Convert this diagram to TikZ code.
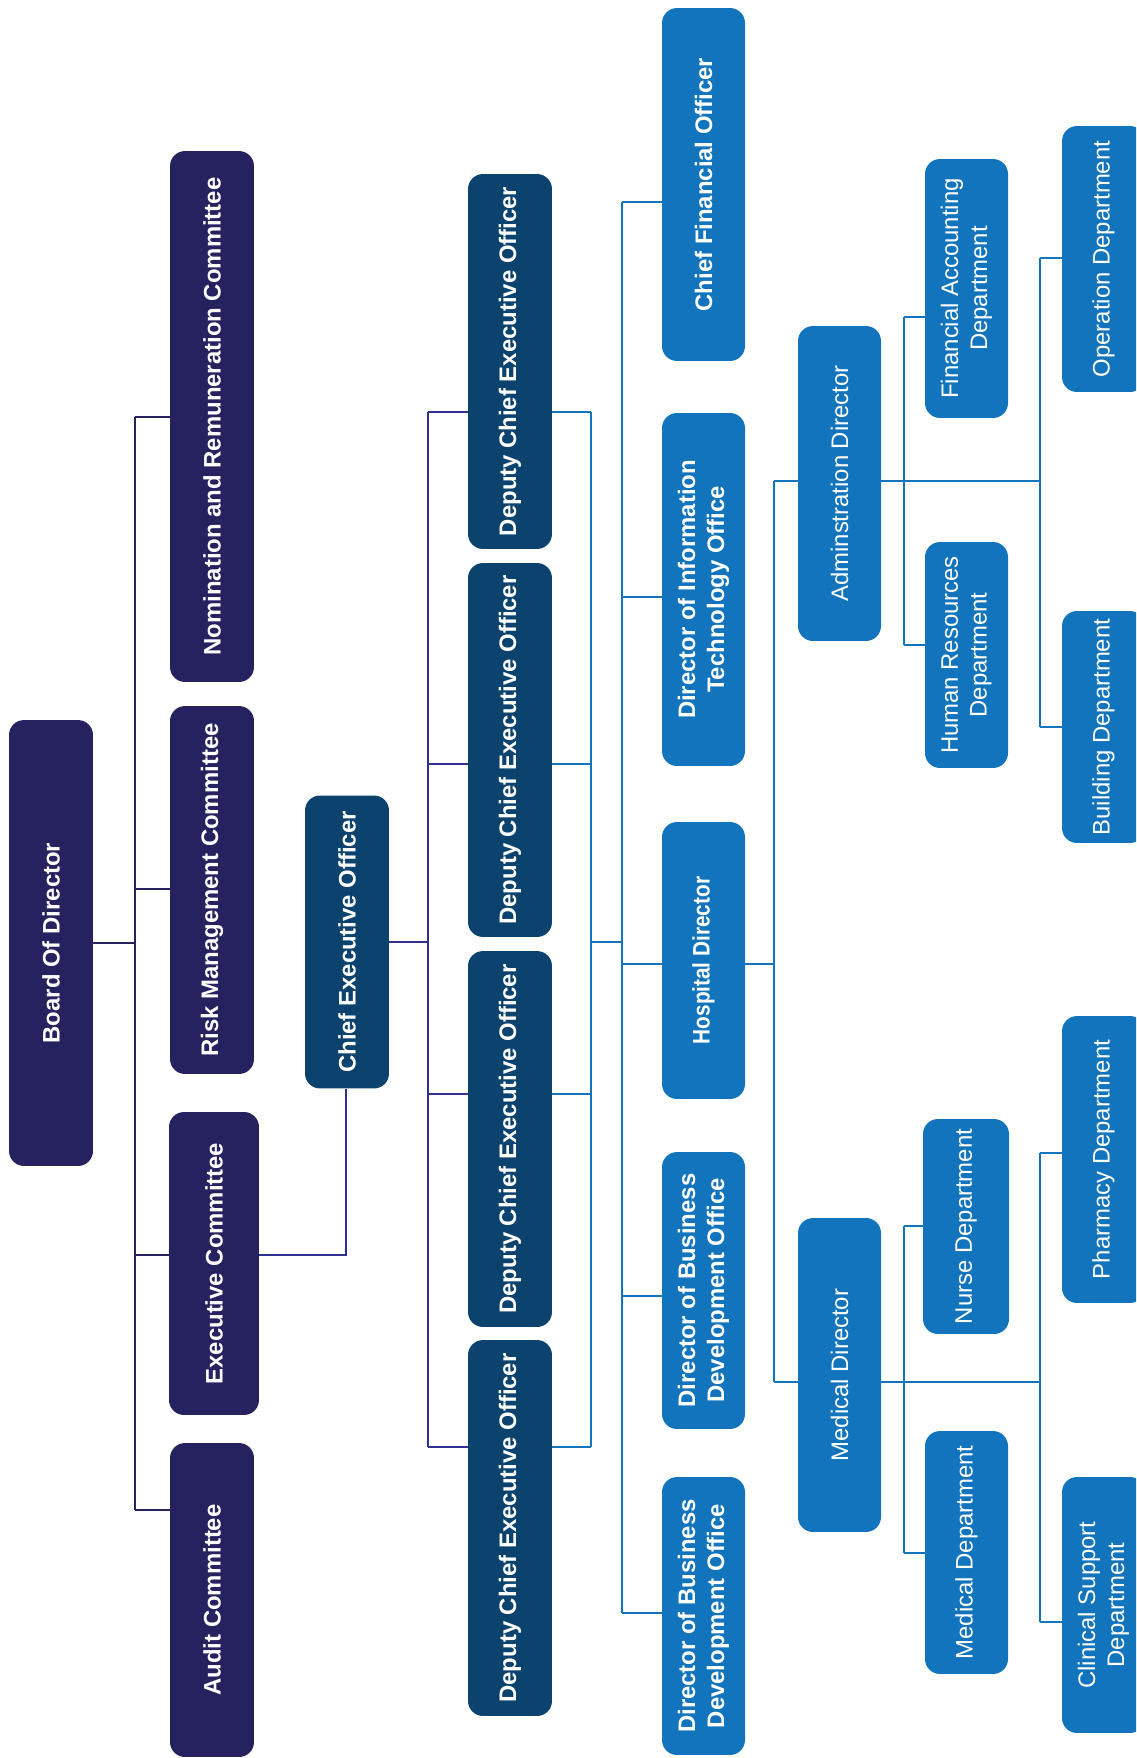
\documentclass[tikz,border=0pt]{standalone}
\usepackage{fontspec}
\setmainfont{Liberation Sans}
\newfontfamily\narrowsans[FakeStretch=0.87]{Liberation Sans}
\usepackage{tikz}

\definecolor{boardnavy}{RGB}{38,34,96}
\definecolor{ceonavy}{RGB}{11,66,110}
\definecolor{deptblue}{RGB}{18,116,188}
\definecolor{linknavy}{RGB}{46,49,146}

\tikzset{
	box/.style={rotate=90, rounded corners=0.3cm, inner sep=0pt, text=white, align=center,
		font=\fontsize{13.6}{16.5}\selectfont\bfseries},
	boardbox/.style={box, fill=boardnavy},
	ceobox/.style={box, fill=ceonavy},
	officebox/.style={box, fill=deptblue},
	deptbox/.style={box, fill=deptblue, font=\fontsize{13.6}{16.5}\selectfont},
	boardline/.style={draw=boardnavy, line width=1.1pt},
	ceoline/.style={draw=linknavy, line width=1.1pt},
	deptline/.style={draw=deptblue, line width=1.1pt},
}

\begin{document}
\begin{tikzpicture}[x=0.02cm, y=-0.02cm]

	\useasboundingbox (0,0) rectangle (1136,1758);
	\clip (0,0) rectangle (1136,1758);

	% board and committees
	\node (board) at (51,943) [boardbox, minimum width=8.92cm, minimum height=1.68cm] {Board Of Director};
	\node (nom) at (212,416.5) [boardbox, minimum width=10.62cm, minimum height=1.68cm] {Nomination and Remuneration Committee};
	\node (risk) at (212,890) [boardbox, minimum width=7.36cm, minimum height=1.68cm] {Risk Management Committee};
	\node (execom) at (214,1263.5) [boardbox, minimum width=6.06cm, minimum height=1.8cm] {Executive Committee};
	\node (audit) at (212,1600) [boardbox, minimum width=6.28cm, minimum height=1.68cm] {Audit Committee};

	% chief executive and deputies
	\node (ceo) at (347,942) [ceobox, minimum width=5.86cm, minimum height=1.68cm] {Chief Executive Officer};
	\node (dceoA) at (510,361.5) [ceobox, minimum width=7.5cm, minimum height=1.68cm] {Deputy Chief Executive Officer};
	\node (dceoB) at (510,750) [ceobox, minimum width=7.48cm, minimum height=1.68cm] {Deputy Chief Executive Officer};
	\node (dceoC) at (510,1139) [ceobox, minimum width=7.52cm, minimum height=1.68cm] {Deputy Chief Executive Officer};
	\node (dceoD) at (510,1528) [ceobox, minimum width=7.52cm, minimum height=1.68cm] {Deputy Chief Executive Officer};

	% offices
	\node (cfo) at (703.5,184.5) [officebox, minimum width=7.06cm, minimum height=1.66cm] {Chief Financial Officer};
	\node (dito) at (703.5,589.5) [officebox, minimum width=7.06cm, minimum height=1.66cm] {Director of Information\\Technology Office};
	\node (hosp) at (703.5,960.5) [officebox, minimum width=5.54cm, minimum height=1.66cm, font=\fontsize{13.6}{16.5}\narrowsans\bfseries] {Hospital Director};
	\node (bdoA) at (703.5,1290.5) [officebox, minimum width=5.54cm, minimum height=1.66cm] {Director of Business\\Development Office};
	\node (bdoB) at (703.5,1616) [officebox, minimum width=5.56cm, minimum height=1.66cm] {Director of Business\\Development Office};

	% directors and departments
	\node (admin) at (839.5,483.5) [deptbox, minimum width=6.3cm, minimum height=1.66cm] {Adminstration Director};
	\node (meddir) at (839.5,1375) [deptbox, minimum width=6.28cm, minimum height=1.66cm] {Medical Director};
	\node (fin) at (966.5,288.5) [deptbox, minimum width=5.18cm, minimum height=1.66cm] {Financial Accounting\\Department};
	\node (hr) at (966.5,655) [deptbox, minimum width=4.52cm, minimum height=1.66cm] {Human Resources\\Department};
	\node (nurse) at (966,1226.5) [deptbox, minimum width=4.3cm, minimum height=1.72cm] {Nurse Department};
	\node (meddep) at (966.5,1552.5) [deptbox, minimum width=4.86cm, minimum height=1.66cm] {Medical Department};
	\node (oper) at (1103.5,259) [deptbox, minimum width=5.32cm, minimum height=1.66cm] {Operation Department};
	\node (build) at (1103.5,727) [deptbox, minimum width=4.64cm, minimum height=1.66cm] {Building Department};
	\node (pharm) at (1103.5,1159.5) [deptbox, minimum width=5.74cm, minimum height=1.66cm] {Pharmacy Department};
	\node (clin) at (1103.5,1605) [deptbox, minimum width=5.12cm, minimum height=1.66cm] {Clinical Support\\Department};

	% board trunk
	\coordinate (nomJ) at (135,417);
	\coordinate (riskJ) at (135,889);
	\coordinate (execJ) at (135,1255);
	\coordinate (auditJ) at (135,1510);
	\draw[boardline] (nomJ) -- (auditJ);
	\draw[boardline] (board.south) -- (board.south -| nomJ);
	\draw[boardline] (nomJ) -- (nom.north |- nomJ);
	\draw[boardline] (riskJ) -- (risk.north |- riskJ);
	\draw[boardline] (execJ) -- (execom.north |- execJ);
	\draw[boardline] (auditJ) -- (audit.north |- auditJ);

	% ceo to executive committee
	\coordinate (ceoE) at (346,1255);
	\draw[ceoline] (ceo.west -| ceoE) -- (ceoE) -- (execom.south |- ceoE);

	% ceo to deputies
	\coordinate (dlA) at (428,412);
	\coordinate (dlB) at (428,764);
	\coordinate (dlC) at (428,1094);
	\coordinate (dlD) at (428,1447);
	\draw[ceoline] (dlA) -- (dlD);
	\draw[ceoline] (ceo.south) -- (ceo.south -| dlA);
	\draw[ceoline] (dlA) -- (dceoA.north |- dlA);
	\draw[ceoline] (dlB) -- (dceoB.north |- dlB);
	\draw[ceoline] (dlC) -- (dceoC.north |- dlC);
	\draw[ceoline] (dlD) -- (dceoD.north |- dlD);

	\coordinate (drA) at (591,412);
	\coordinate (drB) at (591,764);
	\coordinate (drC) at (591,1094);
	\coordinate (drD) at (591,1447);
	\draw[deptline] (drA) -- (drD);
	\draw[deptline] (dceoA.south |- drA) -- (drA);
	\draw[deptline] (dceoB.south |- drB) -- (drB);
	\draw[deptline] (dceoC.south |- drC) -- (drC);
	\draw[deptline] (dceoD.south |- drD) -- (drD);

	% deputies to offices
	\coordinate (sMid) at (622,942);
	\coordinate (sCfo) at (622,202);
	\coordinate (sDito) at (622,597);
	\coordinate (sHosp) at (622,964);
	\coordinate (sBdoA) at (622,1296);
	\coordinate (sBdoB) at (622,1613);
	\draw[deptline] (sCfo) -- (sBdoB);
	\draw[deptline] (sMid -| drA) -- (sMid);
	\draw[deptline] (sCfo) -- (cfo.north |- sCfo);
	\draw[deptline] (sDito) -- (dito.north |- sDito);
	\draw[deptline] (sHosp) -- (hosp.north |- sHosp);
	\draw[deptline] (sBdoA) -- (bdoA.north |- sBdoA);
	\draw[deptline] (sBdoB) -- (bdoB.north |- sBdoB);

	% hospital director
	\coordinate (hJ) at (774,964);
	\coordinate (aJ) at (774,481);
	\coordinate (mJ) at (774,1382);
	\draw[deptline] (hosp.south |- hJ) -- (hJ);
	\draw[deptline] (aJ) -- (mJ);
	\draw[deptline] (aJ) -- (admin.north |- aJ);
	\draw[deptline] (mJ) -- (meddir.north |- mJ);

	% administration departments
	\coordinate (aOut) at (1040,481);
	\coordinate (finJ) at (904,317);
	\coordinate (hrJ) at (904,645);
	\coordinate (operJ) at (1040,258);
	\coordinate (buildJ) at (1040,727);
	\draw[deptline] (admin.south |- aOut) -- (aOut);
	\draw[deptline] (finJ) -- (hrJ);
	\draw[deptline] (operJ) -- (buildJ);
	\draw[deptline] (finJ) -- (fin.north |- finJ);
	\draw[deptline] (hrJ) -- (hr.north |- hrJ);
	\draw[deptline] (operJ) -- (oper.north |- operJ);
	\draw[deptline] (buildJ) -- (build.north |- buildJ);

	% medical departments
	\coordinate (mOut) at (1040,1382);
	\coordinate (nurseJ) at (904,1226);
	\coordinate (meddepJ) at (904,1553);
	\coordinate (pharmJ) at (1040,1153);
	\coordinate (clinJ) at (1040,1622);
	\draw[deptline] (meddir.south |- mOut) -- (mOut);
	\draw[deptline] (nurseJ) -- (meddepJ);
	\draw[deptline] (pharmJ) -- (clinJ);
	\draw[deptline] (nurseJ) -- (nurse.north |- nurseJ);
	\draw[deptline] (meddepJ) -- (meddep.north |- meddepJ);
	\draw[deptline] (pharmJ) -- (pharm.north |- pharmJ);
	\draw[deptline] (clinJ) -- (clin.north |- clinJ);

\end{tikzpicture}
\end{document}
